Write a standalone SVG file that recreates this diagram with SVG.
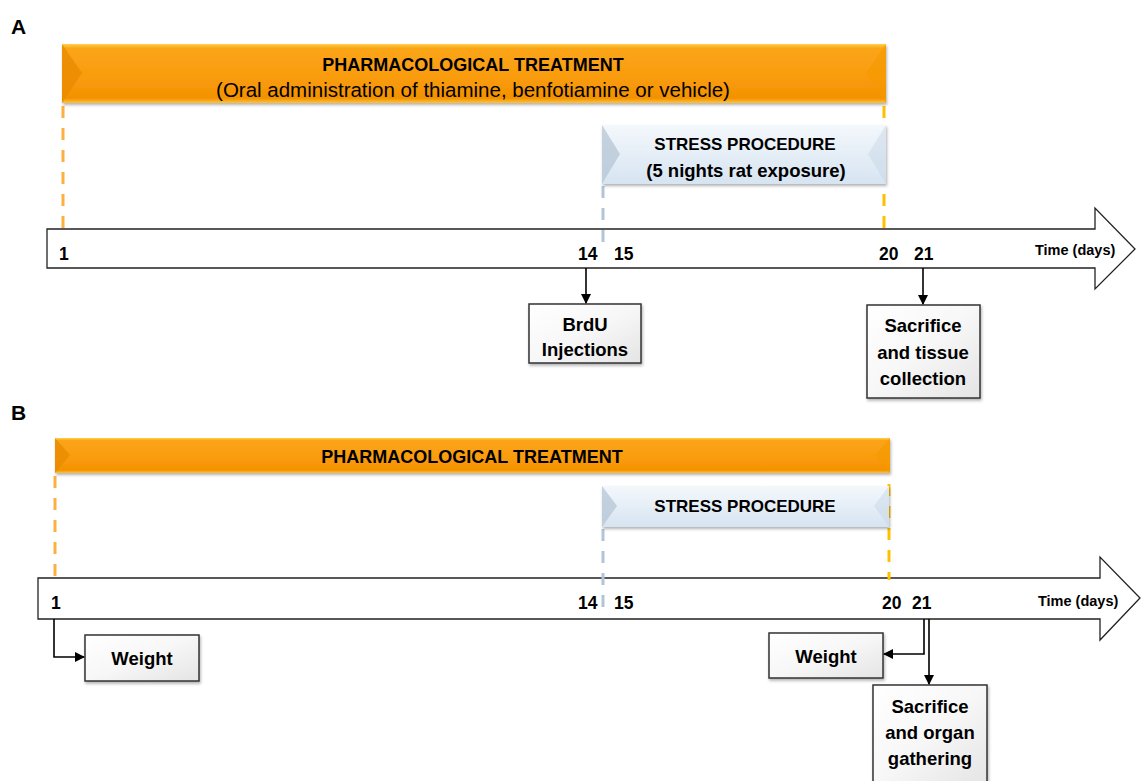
<svg xmlns="http://www.w3.org/2000/svg" width="1142" height="781" viewBox="0 0 1142 781">
<defs>
<linearGradient id="og" x1="0" y1="0" x2="0" y2="1">
<stop offset="0" stop-color="#FFD24A"/>
<stop offset="0.07" stop-color="#FBA519"/>
<stop offset="0.6" stop-color="#F99B0C"/>
<stop offset="0.92" stop-color="#F39200"/>
<stop offset="1" stop-color="#FFC23A"/>
</linearGradient>
<linearGradient id="bg" x1="0" y1="0" x2="0" y2="1">
<stop offset="0" stop-color="#F4F8FC"/>
<stop offset="1" stop-color="#D6E4F1"/>
</linearGradient>
<linearGradient id="wg" x1="0" y1="0" x2="1" y2="1">
<stop offset="0" stop-color="#FFFFFF"/>
<stop offset="0.5" stop-color="#F7F7F7"/>
<stop offset="1" stop-color="#E4E4E4"/>
</linearGradient>
<filter id="sh" x="-5%" y="-10%" width="110%" height="130%">
<feDropShadow dx="1" dy="2" stdDeviation="1.5" flood-color="#000" flood-opacity="0.3"/>
</filter>
<marker id="ah" markerWidth="10" markerHeight="10" refX="9" refY="5" orient="auto" markerUnits="userSpaceOnUse">
<path d="M0,0 L10,5 L0,10 Z" fill="#000"/>
</marker>
</defs>
<style>
text{font-family:"Liberation Sans",Arial,sans-serif;fill:#000}
.b{font-weight:bold}
.lbl{font-weight:bold;font-size:21px}
.num{font-weight:bold;font-size:17.5px}
.time{font-size:14.5px;font-weight:bold}
.box{fill:url(#wg);stroke:#333;stroke-width:1.5;filter:url(#sh)}
.bt{font-weight:bold;font-size:18.5px;text-anchor:middle}
.axis{fill:#fff;stroke:#222;stroke-width:1.3}
.dO{stroke:#FBB040;stroke-width:3;stroke-dasharray:12 10;fill:none}
.dY{stroke:#FFC000;stroke-width:3;stroke-dasharray:12 10;fill:none}
.dB{stroke:#B4C4D8;stroke-width:3;stroke-dasharray:12 10;fill:none}
.con{stroke:#000;stroke-width:1.6;fill:none}
.orange{fill:url(#og);filter:url(#sh)}
.blue{fill:url(#bg);filter:url(#sh)}
.ttl{font-weight:bold;font-size:18px;text-anchor:middle}
.st{font-weight:bold;font-size:17px;text-anchor:middle}
</style>

<text class="lbl" x="11" y="34">A</text>
<text class="lbl" x="11" y="420">B</text>

<!-- Panel A axis -->
<g id="axisA">
<path class="axis" d="M47,229 L1095,229 L1095,208 L1135,249 L1095,289 L1095,268 L47,268 Z"/>
<text class="num" x="59" y="260">1</text>
<text class="num" x="578" y="260">14</text>
<text class="num" x="614" y="260">15</text>
<text class="num" x="879" y="260">20</text>
<text class="num" x="914" y="260">21</text>
<text class="time" x="1035" y="255">Time (days)</text>
</g>

<!-- Panel B axis -->
<g id="axisB">
<path class="axis" d="M38,578 L1100,578 L1100,557 L1140,598 L1100,640 L1100,619 L38,619 Z"/>
<text class="num" x="51" y="609">1</text>
<text class="num" x="578" y="609">14</text>
<text class="num" x="614" y="609">15</text>
<text class="num" x="882" y="609">20</text>
<text class="num" x="912" y="609">21</text>
<text class="time" x="1038" y="606">Time (days)</text>
</g>

<!-- dashed guides -->
<g id="guides">
<line class="dO" x1="63" y1="106" x2="63" y2="236"/>
<line class="dY" x1="884" y1="106" x2="884" y2="236"/>
<line class="dB" x1="603" y1="186" x2="603" y2="246"/>
<line class="dO" x1="55" y1="476" x2="55" y2="580"/>
<line class="dY" x1="889" y1="484" x2="889" y2="580"/>
<line class="dB" x1="603" y1="529" x2="603" y2="614"/>
</g>

<!-- Panel A bars -->
<g id="treatA">
<rect class="orange" x="62" y="44" width="824" height="59"/>
<path d="M62,44 L82,73 L62,103 Z" fill="#E88A00" opacity="0.75"/>
<path d="M886,44 L866,73 L886,103 Z" fill="#F59A00" opacity="0.6"/>
<text class="ttl" x="473" y="71">PHARMACOLOGICAL TREATMENT</text>
<text x="473" y="97" text-anchor="middle" font-size="20.5">(Oral administration of thiamine, benfotiamine or vehicle)</text>
</g>
<g id="stressA">
<rect class="blue" x="602" y="125" width="284" height="59"/>
<path d="M602,125 L620,154 L602,184 Z" fill="#B6C6D6" opacity="0.75"/>
<path d="M886,125 L868,154 L886,184 Z" fill="#C8D7E6" opacity="0.5"/>
<text class="st" x="745" y="150">STRESS PROCEDURE</text>
<text class="b" x="746" y="177" text-anchor="middle" font-size="18.5">(5 nights rat exposure)</text>
</g>

<!-- Panel B bars -->
<g id="treatB">
<rect class="orange" x="55" y="438" width="835" height="35"/>
<path d="M55,438 L70,455 L55,473 Z" fill="#E88A00" opacity="0.75"/>
<path d="M890,438 L875,455 L890,473 Z" fill="#F59A00" opacity="0.6"/>
<text class="ttl" x="472" y="463">PHARMACOLOGICAL TREATMENT</text>
</g>
<g id="stressB">
<rect class="blue" x="602" y="486" width="287" height="41"/>
<path d="M602,486 L617,506 L602,527 Z" fill="#B6C6D6" opacity="0.75"/>
<path d="M889,486 L874,506 L889,527 Z" fill="#C8D7E6" opacity="0.5"/>
<text class="st" x="745" y="512">STRESS PROCEDURE</text>
</g>

<!-- boxes -->
<g id="brdu">
<rect class="box" x="529" y="304" width="112" height="59"/>
<text class="bt" x="585" y="331">BrdU</text>
<text class="bt" x="585" y="356">Injections</text>
</g>
<g id="sacA">
<rect class="box" x="867" y="305" width="113" height="93"/>
<text class="bt" x="923" y="332">Sacrifice</text>
<text class="bt" x="923" y="359">and tissue</text>
<text class="bt" x="923" y="385">collection</text>
</g>
<g id="weightL">
<rect class="box" x="85" y="635" width="114" height="46"/>
<text class="bt" x="142" y="665">Weight</text>
</g>
<g id="weightR">
<rect class="box" x="769" y="633" width="114" height="45"/>
<text class="bt" x="826" y="663">Weight</text>
</g>
<g id="sacB">
<rect class="box" x="873" y="685" width="114" height="100"/>
<text class="bt" x="930" y="713">Sacrifice</text>
<text class="bt" x="930" y="739">and organ</text>
<text class="bt" x="930" y="765">gathering</text>
</g>

<!-- connectors -->
<g id="connectors">
<path class="con" d="M586,268 L586,303" marker-end="url(#ah)"/>
<path class="con" d="M923,268 L923,304" marker-end="url(#ah)"/>
<path class="con" d="M54,619 L54,657 L84,657" marker-end="url(#ah)"/>
<path class="con" d="M924,619 L924,654 L884,654" marker-end="url(#ah)"/>
<path class="con" d="M929,619 L929,684" marker-end="url(#ah)"/>
</g>
</svg>
